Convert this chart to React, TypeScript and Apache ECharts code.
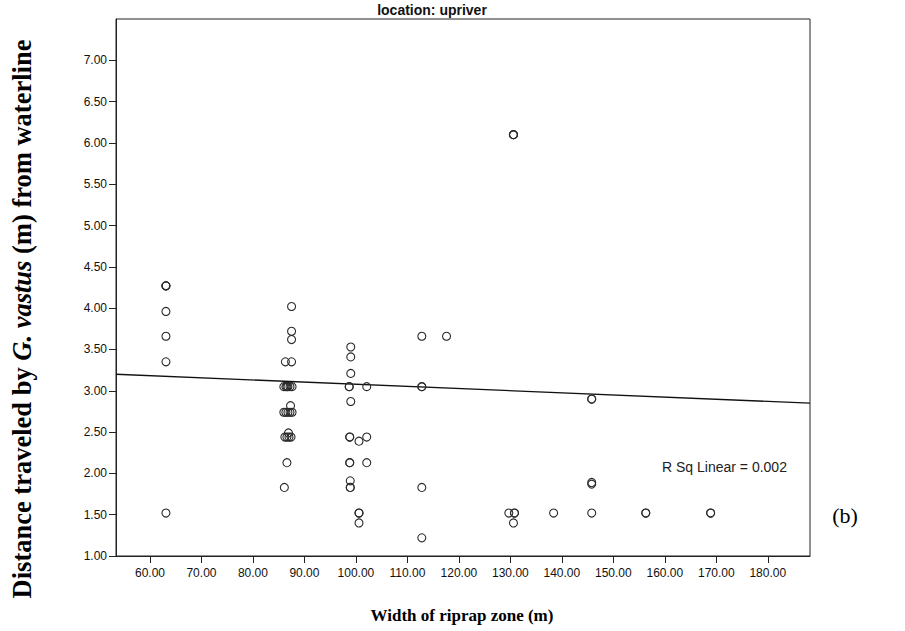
import React, { useEffect, useRef } from "react";
import * as echarts from "echarts";

// Scatter data (width of riprap zone, distance traveled)
const widthA = [63.1, 63.1, 63.1, 63.1, 63.1, 63.1, 63.1];
const distA = [4.27, 4.27, 4.27, 3.96, 3.66, 3.35, 1.52];

const widthB = [87.5, 87.5, 87.5, 86.3, 87.5, 86.0, 86.4, 86.8, 87.2, 87.6, 86.6, 87.3, 86.0, 86.4, 86.8, 87.2, 87.6, 86.9, 86.2, 86.6, 87.0, 87.4, 86.6, 86.1];
const distB = [4.02, 3.72, 3.62, 3.35, 3.35, 3.05, 3.05, 3.05, 3.05, 3.05, 3.05, 2.82, 2.74, 2.74, 2.74, 2.74, 2.74, 2.49, 2.44, 2.44, 2.44, 2.44, 2.13, 1.83];

const widthC = [99.0, 99.0, 99.0, 98.7, 98.7, 102.1, 99.0, 98.8, 98.8, 100.6, 102.1, 98.8, 98.8, 102.1, 98.9, 98.9, 98.9, 100.6, 100.6, 100.6];
const distC = [3.53, 3.41, 3.21, 3.05, 3.05, 3.05, 2.87, 2.44, 2.44, 2.39, 2.44, 2.13, 2.13, 2.13, 1.91, 1.83, 1.83, 1.52, 1.52, 1.4];

const widthD = [112.8, 117.6, 112.8, 112.8, 112.8, 112.8];
const distD = [3.66, 3.66, 3.05, 3.05, 1.83, 1.22];

const widthE = [130.6, 130.6, 130.6, 129.7, 130.8, 130.8, 130.6, 138.4, 145.8, 145.8, 145.8, 145.8, 145.8, 156.3, 156.3, 168.9, 168.9];
const distE = [6.1, 6.1, 6.1, 1.52, 1.52, 1.52, 1.4, 1.52, 2.9, 2.9, 1.89, 1.87, 1.52, 1.52, 1.52, 1.52, 1.52];

// Linear fit line endpoints
const fitWidth = [53.4, 188.2];
const fitDist = [3.2, 2.85];

const xTicks = [60, 70, 80, 90, 100, 110, 120, 130, 140, 150, 160, 170, 180];
const yTicks = [1, 1.5, 2, 2.5, 3, 3.5, 4, 4.5, 5, 5.5, 6, 6.5, 7];

const titleText = "location: upriver";
const rSqText = "R Sq Linear = 0.002";
const xTitle = "Width of riprap zone (m)";
const panelLabel = "(b)";

export default function App() {
  const ref = useRef<HTMLDivElement>(null);
  useEffect(() => {
    if (!ref.current) return;
    const chart = echarts.init(ref.current, null, { renderer: "svg" });
    const points: number[][] = [];
    const groups = [
      [widthA, distA],
      [widthB, distB],
      [widthC, distC],
      [widthD, distD],
      [widthE, distE],
    ];
    groups.forEach(([xs, ys]) => xs.forEach((x, i) => points.push([x, ys[i]])));
    const fit = fitWidth.map((x, i) => [x, fitDist[i]]);

    const labelFont = { color: "#111", fontFamily: "Liberation Sans, Arial, sans-serif", fontSize: 12 };

    chart.setOption({
      animation: false,
      backgroundColor: "#fff",
      grid: { left: 116, right: 95, top: 19, bottom: 75, show: true, borderColor: "#222", borderWidth: 1 },
      xAxis: {
        type: "value",
        min: 53.4,
        max: 188.2,
        axisLine: { onZero: false, lineStyle: { color: "#222", width: 1 } },
        axisTick: { show: true, length: 7, customValues: xTicks, lineStyle: { color: "#222" } },
        axisLabel: { ...labelFont, customValues: xTicks, margin: 11, formatter: (v: number) => v.toFixed(2) },
        splitLine: { show: false },
      },
      yAxis: {
        type: "value",
        min: 1,
        max: 7.5,
        interval: 0.5,
        axisLine: { show: true, onZero: false, lineStyle: { color: "#222", width: 1 } },
        axisTick: { show: true, length: 7, customValues: yTicks, lineStyle: { color: "#222" } },
        axisLabel: { ...labelFont, customValues: yTicks, margin: 9, formatter: (v: number) => v.toFixed(2) },
        splitLine: { show: false },
      },
      series: [
        {
          type: "scatter",
          data: points,
          symbol: "circle",
          symbolSize: 8,
          itemStyle: { color: "rgba(255,255,255,0)", borderColor: "#2a2a2a", borderWidth: 1.1, opacity: 1 },
          z: 3,
        },
        {
          type: "line",
          data: fit,
          symbol: "none",
          lineStyle: { color: "#111", width: 1.3 },
          z: 2,
        },
      ],
      graphic: [
        {
          type: "text",
          x: 432,
          y: 10,
          style: {
            text: titleText,
            textAlign: "center",
            textVerticalAlign: "middle",
            font: "bold 14px 'Liberation Sans Narrow', 'Arial Narrow', 'Liberation Sans', sans-serif",
            fill: "#111",
          },
        },
        {
          type: "text",
          x: 662,
          y: 467,
          style: {
            text: rSqText,
            textAlign: "left",
            textVerticalAlign: "middle",
            font: "14px 'Liberation Sans', Arial, sans-serif",
            fill: "#222",
          },
        },
        {
          type: "text",
          x: 462,
          y: 615,
          style: {
            text: xTitle,
            textAlign: "center",
            textVerticalAlign: "middle",
            font: "bold 17px 'Liberation Serif', 'Times New Roman', serif",
            fill: "#000",
          },
        },
        {
          type: "text",
          x: 22,
          y: 319,
          rotation: Math.PI / 2,
          style: {
            text: "{a|Distance traveled by }{i|G. vastus}{a| (m) from waterline}",
            textAlign: "center",
            textVerticalAlign: "middle",
            rich: {
              a: { font: "bold 26.5px 'Liberation Serif', 'Times New Roman', serif", fill: "#000" },
              i: { font: "italic bold 26.5px 'Liberation Serif', 'Times New Roman', serif", fill: "#000" },
            },
          },
        },
        {
          type: "text",
          x: 845,
          y: 515,
          style: {
            text: panelLabel,
            textAlign: "center",
            textVerticalAlign: "middle",
            font: "22px 'Liberation Serif', 'Times New Roman', serif",
            fill: "#000",
          },
        },
      ],
    });
    return () => chart.dispose();
  }, []);
  return <div ref={ref} style={{ width: 905, height: 631, position: "absolute", left: 0, top: 0 }} />;
}
